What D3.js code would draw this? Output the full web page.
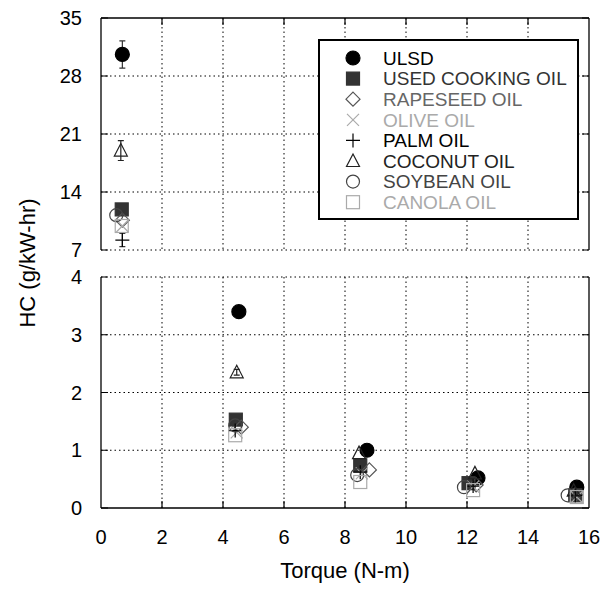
<!DOCTYPE html>
<html>
<head>
<meta charset="utf-8">
<script src="https://cdnjs.cloudflare.com/ajax/libs/d3/7.8.5/d3.min.js"></script>
<style>
  body { margin: 0; background: white; }
  svg { display: block; }
</style>
</head>
<body>
<div id="chart"></div>
<script>

// series names, in legend order
var series_names = ['ULSD', 'USED COOKING OIL', 'RAPESEED OIL', 'OLIVE OIL',
                    'PALM OIL', 'COCONUT OIL', 'SOYBEAN OIL', 'CANOLA OIL'];

// torque (N-m) per series
var torque_ulsd     = [0.70, 4.52, 8.72, 12.36, 15.60];
var torque_uco      = [0.68, 4.42, 8.50, 12.05, 15.55];
var torque_rapeseed = [0.70, 4.60, 8.80, 12.30, 15.55];
var torque_olive    = [0.70, 4.45, 8.55, 12.20, 15.60];
var torque_palm     = [0.70, 4.40, 8.50, 12.20, 15.55];
var torque_coconut  = [0.65, 4.45, 8.46, 12.26, 15.50];
var torque_soybean  = [0.50, 4.40, 8.40, 11.90, 15.30];
var torque_canola   = [0.68, 4.40, 8.50, 12.20, 15.60];

// HC (g/kW-hr) per series
var hc_ulsd     = [30.6, 3.40, 1.00, 0.52, 0.36];
var hc_uco      = [11.9, 1.53, 0.74, 0.43, 0.22];
var hc_rapeseed = [10.6, 1.40, 0.66, 0.40, 0.23];
var hc_olive    = [9.9, 1.31, 0.60, 0.37, 0.19];
var hc_palm     = [8.2, 1.34, 0.62, 0.38, 0.22];
var hc_coconut  = [19.0, 2.35, 0.95, 0.60, 0.30];
var hc_soybean  = [11.2, 1.43, 0.57, 0.36, 0.22];
var hc_canola   = [9.9, 1.26, 0.45, 0.31, 0.19];

// error bars (only the large ones are visible)
var err_ulsd    = [1.65, 0, 0, 0, 0];
var err_coconut = [1.2, 0.05, 0, 0, 0];
var err_palm    = [0.8, 0, 0, 0, 0];

var x_ticks = [0, 2, 4, 6, 8, 10, 12, 14, 16];
var y_ticks_top = [7, 14, 21, 28, 35];
var y_ticks_bot = [0, 1, 2, 3, 4];

var series = [
  {name: series_names[0], x: torque_ulsd,     y: hc_ulsd,     err: err_ulsd,    sym: 'circle',  fill: true,  color: '#000'},
  {name: series_names[1], x: torque_uco,      y: hc_uco,      err: null,        sym: 'square',  fill: true,  color: '#333'},
  {name: series_names[2], x: torque_rapeseed, y: hc_rapeseed, err: null,        sym: 'diamond', fill: false, color: '#555'},
  {name: series_names[3], x: torque_olive,    y: hc_olive,    err: null,        sym: 'cross',   fill: false, color: '#aaa'},
  {name: series_names[4], x: torque_palm,     y: hc_palm,     err: err_palm,    sym: 'plus',    fill: false, color: '#000'},
  {name: series_names[5], x: torque_coconut,  y: hc_coconut,  err: err_coconut, sym: 'triangle',fill: false, color: '#222'},
  {name: series_names[6], x: torque_soybean,  y: hc_soybean,  err: null,        sym: 'circle',  fill: false, color: '#444'},
  {name: series_names[7], x: torque_canola,   y: hc_canola,   err: null,        sym: 'square',  fill: false, color: '#aaa'}
];

var width = 605, height = 590;
var font = 'Arial, "Liberation Sans", Helvetica, sans-serif';

var x = d3.scaleLinear().domain([0, 16]).range([101, 589]);
var y_top = d3.scaleLinear().domain([7, 35]).range([250, 18]);
var y_bot = d3.scaleLinear().domain([0, 4]).range([508, 277]);

var svg = d3.select('#chart')
  .append('svg')
  .attr('width', width)
  .attr('height', height);

var panels = [
  {y: y_top, ticks: y_ticks_top, solid_top: true,  solid_bottom: false},
  {y: y_bot, ticks: y_ticks_bot, solid_top: false, solid_bottom: true}
];

var tick_len = 7;
var grid_dash = '1.5,3';

panels.forEach(function(p){
  var y0 = p.y.range()[0], y1 = p.y.range()[1];
  var g = svg.append('g');

  // vertical grid
  g.selectAll('.vgrid')
    .data(x_ticks.slice(1, -1))
    .enter()
    .append('line')
    .attr('x1', function(d){ return x(d); })
    .attr('x2', function(d){ return x(d); })
    .attr('y1', y1)
    .attr('y2', y0)
    .style('stroke', '#000')
    .style('stroke-width', 1)
    .style('stroke-dasharray', grid_dash);

  // horizontal grid
  g.selectAll('.hgrid')
    .data(p.ticks.filter(function(d, i){
      if (i == 0) return !p.solid_bottom;
      if (i == p.ticks.length - 1) return !p.solid_top;
      return true;
    }))
    .enter()
    .append('line')
    .attr('x1', x(0))
    .attr('x2', x(16))
    .attr('y1', function(d){ return p.y(d); })
    .attr('y2', function(d){ return p.y(d); })
    .style('stroke', '#000')
    .style('stroke-width', 1)
    .style('stroke-dasharray', grid_dash);

  // y ticks left and right, pointing in
  g.selectAll('.ytick')
    .data(p.ticks)
    .enter()
    .append('path')
    .attr('d', function(d){
      var yy = p.y(d);
      return 'M' + x(0) + ',' + yy + 'h' + tick_len + 'M' + x(16) + ',' + yy + 'h' + (-tick_len);
    })
    .style('stroke', '#000')
    .style('stroke-width', 1.2);

  g.selectAll('.ylabel')
    .data(p.ticks)
    .enter()
    .append('text')
    .attr('x', 82)
    .attr('y', function(d){ return p.y(d); })
    .attr('dy', '0.36em')
    .attr('text-anchor', 'end')
    .style('font-family', font)
    .style('font-size', '20px')
    .style('fill', '#000')
    .text(function(d){ return d; });

  // frame
  g.append('line')
    .attr('x1', x(0)).attr('x2', x(0))
    .attr('y1', y1).attr('y2', y0)
    .style('stroke', '#000').style('stroke-width', 1.3);
  g.append('line')
    .attr('x1', x(16)).attr('x2', x(16))
    .attr('y1', y1).attr('y2', y0)
    .style('stroke', '#000').style('stroke-width', 1.3);

  if (p.solid_top){
    g.append('line')
      .attr('x1', x(0)).attr('x2', x(16))
      .attr('y1', y1).attr('y2', y1)
      .style('stroke', '#000').style('stroke-width', 1.3);
    g.selectAll('.xtick_top')
      .data(x_ticks.slice(1, -1))
      .enter()
      .append('line')
      .attr('x1', function(d){ return x(d); })
      .attr('x2', function(d){ return x(d); })
      .attr('y1', y1)
      .attr('y2', y1 + tick_len)
      .style('stroke', '#000').style('stroke-width', 1.2);
  }
  if (p.solid_bottom){
    g.append('line')
      .attr('x1', x(0)).attr('x2', x(16))
      .attr('y1', y0).attr('y2', y0)
      .style('stroke', '#000').style('stroke-width', 1.3);
    g.selectAll('.xtick_bot')
      .data(x_ticks.slice(1, -1))
      .enter()
      .append('line')
      .attr('x1', function(d){ return x(d); })
      .attr('x2', function(d){ return x(d); })
      .attr('y1', y0)
      .attr('y2', y0 - tick_len)
      .style('stroke', '#000').style('stroke-width', 1.2);
  }
});

// x tick labels
svg.selectAll('.xlabel')
  .data(x_ticks)
  .enter()
  .append('text')
  .attr('x', function(d){ return x(d); })
  .attr('y', 544)
  .attr('text-anchor', 'middle')
  .style('font-family', font)
  .style('font-size', '20px')
  .text(function(d){ return d; });

// axis titles
svg.append('text')
  .attr('x', 345)
  .attr('y', 578)
  .attr('text-anchor', 'middle')
  .style('font-family', font)
  .style('font-size', '22px')
  .text('Torque (N-m)');

svg.append('text')
  .attr('transform', 'translate(35, 263) rotate(-90)')
  .attr('text-anchor', 'middle')
  .style('font-family', font)
  .style('font-size', '22px')
  .text('HC (g/kW-hr)');

// marker drawing
function draw_marker(sel, s, cx, cy){
  var m = sel.append('g').attr('transform', 'translate(' + cx + ',' + cy + ')');
  var fill = s.fill ? s.color : 'none';
  var sw = 1.2;
  if (s.sym == 'circle'){
    m.append('circle').attr('r', s.fill ? 7 : 6.5)
      .style('fill', fill).style('stroke', s.color).style('stroke-width', sw);
  } else if (s.sym == 'square'){
    m.append('rect').attr('x', -6.5).attr('y', -6.5).attr('width', 13).attr('height', 13)
      .style('fill', fill).style('stroke', s.color).style('stroke-width', sw);
  } else if (s.sym == 'diamond'){
    m.append('path').attr('d', 'M0,-7L7,0L0,7L-7,0Z')
      .style('fill', fill).style('stroke', s.color).style('stroke-width', sw);
  } else if (s.sym == 'cross'){
    m.append('path').attr('d', 'M-6,-6L6,6M-6,6L6,-6')
      .style('fill', 'none').style('stroke', s.color).style('stroke-width', sw);
  } else if (s.sym == 'plus'){
    m.append('path').attr('d', 'M-7,0H7M0,-7V7')
      .style('fill', 'none').style('stroke', s.color).style('stroke-width', sw);
  } else if (s.sym == 'triangle'){
    m.append('path').attr('d', 'M0,-7L6.5,5.5L-6.5,5.5Z')
      .style('fill', fill).style('stroke', s.color).style('stroke-width', sw);
  }
}

function y_of(v){
  return v > 4 ? y_top(v) : y_bot(v);
}

var marks = svg.append('g').classed('marks', true);

series.forEach(function(s){
  s.y.forEach(function(v, i){
    var cx = x(s.x[i]);
    var cy = y_of(v);
    if (s.err && s.err[i] > 0){
      var ya = y_of(v + s.err[i]), yb = y_of(v - s.err[i]);
      marks.append('path')
        .attr('d', 'M' + cx + ',' + ya + 'V' + yb +
                   'M' + (cx - 3) + ',' + ya + 'h6' +
                   'M' + (cx - 3) + ',' + yb + 'h6')
        .style('fill', 'none')
        .style('stroke', s.color == '#000' ? '#333' : s.color)
        .style('stroke-width', 1.2);
    }
    draw_marker(marks, s, cx, cy);
  });
});

// legend
var legend = svg.append('g').classed('legend', true);
legend.append('rect')
  .attr('x', 319)
  .attr('y', 40)
  .attr('width', 259)
  .attr('height', 179)
  .style('fill', 'white')
  .style('stroke', '#000')
  .style('stroke-width', 2);

series.forEach(function(s, i){
  var ly = 58 + i * 20.6;
  draw_marker(legend, s, 353, ly);
  legend.append('text')
    .attr('x', 383)
    .attr('y', ly)
    .attr('dy', '0.36em')
    .style('font-family', font)
    .style('font-size', '19px')
    .style('fill', s.color == '#555' ? '#666' : s.color)
    .text(s.name);
});

</script>
</body>
</html>
